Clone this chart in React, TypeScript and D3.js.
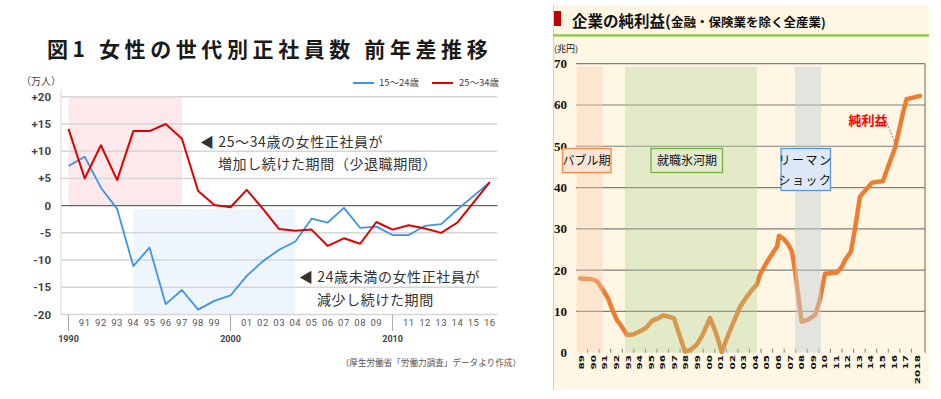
import React from 'react';
import * as d3 from 'd3';

// ---- left chart: 女性の世代別正社員数 前年差 (万人) ----
const years = [1990, 1991, 1992, 1993, 1994, 1995, 1996, 1997, 1998, 1999, 2000, 2001, 2002, 2003, 2004, 2005, 2006, 2007, 2008, 2009, 2010, 2011, 2012, 2013, 2014, 2015, 2016];
const age15to24 = [7.3, 9.0, 3.3, -0.6, -11.1, -7.7, -18.1, -15.5, -19.1, -17.5, -16.5, -12.9, -10.2, -8.1, -6.6, -2.4, -3.1, -0.4, -4.1, -3.85, -5.4, -5.4, -3.7, -3.4, -0.7, 1.8, 4.3];
const age25to34 = [14.1, 5.0, 11.1, 4.7, 13.7, 13.7, 15.0, 12.3, 2.7, 0.1, -0.3, 2.9, -0.6, -4.3, -4.6, -4.4, -7.4, -6.0, -7.0, -3.0, -4.4, -3.6, -4.2, -5.0, -3.1, 0.6, 4.3];
const yTicksL = [20, 15, 10, 5, 0, -5, -10, -15, -20];
const yTickLabelsL = ['+20', '+15', '+10', '+5', '0', '-5', '-10', '-15', '-20'];
const shortYearLabels = ['', '91', '92', '93', '94', '95', '96', '97', '98', '99', '', '01', '02', '03', '04', '05', '06', '07', '08', '09', '', '11', '12', '13', '14', '15', '16'];
const decadeYears = [1990, 2000, 2010];
// shaded periods [fromYear, toYear, fromValue, toValue]
const increasePeriod = [1990, 1997, 0, 20];
const decreasePeriod = [1994, 2004, -20, -0.6];

// ---- right chart: 企業の純利益 (兆円) ----
const fyLabels = ['89', '90', '91', '92', '93', '94', '95', '96', '97', '98', '99', '00', '01', '02', '03', '04', '05', '06', '07', '08', '09', '10', '11', '12', '13', '14', '15', '16', '17', '2018'];
// position in years since FY1989 start, value in 兆円
const profitT = [0.35, 1.38, 1.82, 2.33, 2.77, 3.2, 3.54, 3.89, 4.41, 4.93, 5.53, 6.05, 6.57, 7.09, 7.52, 7.95, 8.47, 8.99, 9.42, 9.86, 10.46, 10.98, 11.59, 12.1, 12.6, 13.05, 13.57, 14.18, 14.78, 15.3, 15.65, 15.91, 16.6, 17.38, 17.55, 17.98, 18.33, 18.67, 18.93, 19.19, 19.51, 20.06, 20.66, 21.09, 21.52, 22.56, 22.99, 23.25, 23.77, 24.12, 24.55, 25.07, 25.59, 26.54, 26.97, 27.57, 28.0, 28.26, 28.58, 29.13, 29.73];
const profitV = [18.0, 17.8, 17.3, 15.2, 13.2, 10.0, 7.9, 6.6, 4.3, 4.4, 5.2, 6.0, 7.7, 8.3, 9.0, 8.8, 8.3, 3.9, 0.3, 0.6, 2.0, 4.5, 8.4, 4.8, 0.2, 3.5, 7.1, 11.1, 13.6, 15.5, 16.6, 19.0, 22.4, 25.7, 28.3, 27.5, 26.3, 24.5, 20.0, 14.4, 7.5, 8.0, 9.1, 12.8, 19.1, 19.4, 20.8, 22.4, 24.5, 30.0, 37.8, 39.5, 41.2, 41.6, 45.0, 49.5, 54.7, 58.0, 61.4, 61.8, 62.2];
const yTicksR = [0, 10, 20, 30, 40, 50, 60, 70];
const periodNames = ['バブル期', '就職氷河期', 'リーマンショック'];
const periodRanges = [[0.06, 2.31], [4.24, 15.65], [18.93, 21.18]];
const periodFills = ['#f8cbad', '#a9d18e', '#c5ced6'];
const periodOpacity = [0.38, 0.32, 0.48];

const JP = '"Noto Sans CJK JP", "Noto Sans", sans-serif';

const xL = d3.scaleLinear().domain([1990, 2016]).range([68.5, 489.8]);
const yL = d3.scaleLinear().domain([-20, 20]).range([314.5, 96.8]);
const xR = d3.scaleLinear().domain([0, 30]).range([576, 923]);
const yR = d3.scaleLinear().domain([0, 70]).range([352.7, 63.7]);

const lineL = d3.line<number>().x((_, i) => xL(years[i])).y(d => yL(d));
const lineR = d3.line<number>().x((_, i) => xR(profitT[i])).y(d => yR(d)).curve(d3.curveLinear);

const LeftChart: React.FC = () => (
  <g>
    <text x={47} y={57} fontFamily={JP} fontWeight={700} fontSize={21} letterSpacing={4.6} fill="#1a1a1a">
      図1 女性の世代別正社員数 前年差推移
    </text>
    <text x={41} y={85} fontFamily={JP} fontSize={10} fill="#444" textAnchor="middle">（万人）</text>

    {/* legend */}
    <line x1={353} x2={374} y1={83} y2={83} stroke="#3d94e6" strokeWidth={2} />
    <text x={379} y={86.3} fontFamily={JP} fontSize={9.5} fill="#444">15～24歳</text>
    <line x1={432} x2={453} y1={83} y2={83} stroke="#e00000" strokeWidth={2} />
    <text x={459} y={86.3} fontFamily={JP} fontSize={9.5} fill="#444">25～34歳</text>

    {/* shaded periods */}
    <rect x={xL(increasePeriod[0])} width={xL(increasePeriod[1]) - xL(increasePeriod[0])}
      y={yL(increasePeriod[3])} height={yL(increasePeriod[2]) - yL(increasePeriod[3])} fill="#fde9e9" />
    <rect x={xL(decreasePeriod[0])} width={xL(decreasePeriod[1]) - xL(decreasePeriod[0])}
      y={yL(decreasePeriod[3])} height={yL(decreasePeriod[2]) - yL(decreasePeriod[3])} fill="#eef5fd" />

    {/* grid */}
    {yTicksL.map((v, i) => (
      <g key={v}>
        <line x1={61} x2={497.5} y1={yL(v)} y2={yL(v)} stroke={v === 0 ? '#666' : '#d6d6d6'} strokeWidth={v === 0 ? 1.4 : 1.5} />
        <text x={51} y={yL(v) + 4} textAnchor="end" fontFamily="Roboto, sans-serif" fontWeight={700} fontSize={11.5} fill="#444">
          {yTickLabelsL[i]}
        </text>
      </g>
    ))}
    <line x1={61} x2={61} y1={90} y2={315} stroke="#d6d6d6" strokeWidth={1} />

    {/* x axis */}
    {decadeYears.map(y => (
      <g key={y}>
        <line x1={xL(y)} x2={xL(y)} y1={315} y2={331} stroke="#aaa" strokeWidth={1} />
        <text x={xL(y)} y={342} textAnchor="middle" fontFamily="Roboto, sans-serif" fontWeight={700} fontSize={9} fill="#444">{y}</text>
      </g>
    ))}
    {years.map((y, i) => shortYearLabels[i] && (
      <text key={y} x={xL(y)} y={325.5} textAnchor="middle" fontFamily="Roboto, sans-serif" fontSize={9.5} fill="#555" letterSpacing={0.5}>
        {shortYearLabels[i]}
      </text>
    ))}

    {/* lines */}
    <path d={lineL(age15to24) || ''} fill="none" stroke="#3d94e6" strokeWidth={1.8} strokeLinejoin="round" />
    <path d={lineL(age25to34) || ''} fill="none" stroke="#e00000" strokeWidth={2} strokeLinejoin="round" />

    {/* annotations */}
    <g fontFamily={JP} fontSize={14} fill="#333" letterSpacing={0.6}>
      <text x={200} y={147}>◀ 25～34歳の女性正社員が</text>
      <text x={218} y={168.5}>増加し続けた期間（少退職期間）</text>
      <text x={299} y={281.5}>◀ 24歳未満の女性正社員が</text>
      <text x={317} y={305}>減少し続けた期間</text>
    </g>
    <text x={521} y={365.5} textAnchor="end" fontFamily={JP} fontSize={8.6} fill="#555">（厚生労働省「労働力調査」データより作成）</text>
  </g>
);

const RightChart: React.FC = () => (
  <g>
    <rect x={553} y={5} width={376} height={385} fill="#fff7e4" />
    <line x1={553.5} x2={553.5} y1={5} y2={390} stroke="#cfcfcf" strokeWidth={1} />
    <rect x={554} y={11} width={7} height={15} fill="#c00000" />
    <text x={572} y={27} fontFamily={JP} fontWeight={700} fill="#111">
      <tspan fontSize={15.5}>企業の純利益(</tspan>
      <tspan fontSize={12.5}>金融・保険業を除く全産業)</tspan>
    </text>
    <rect x={553} y={34.2} width={376} height={2.4} fill="#92c84e" />
    <text x={566} y={52} textAnchor="middle" fontFamily={JP} fontSize={9} fill="#111">(兆円)</text>

    {/* shaded periods behind grid */}
    {yTicksR.map(v => (
      <g key={v}>
        {v > 0 && <line x1={576} x2={925} y1={yR(v)} y2={yR(v)} stroke="#7f7f7f" strokeWidth={1.2} />}
        <text x={567} y={yR(v) + 4.5} textAnchor="end" fontFamily='"Liberation Serif", serif' fontWeight={700} fontSize={13} fill="#111">{v}</text>
      </g>
    ))}
    <line x1={925} x2={925} y1={yR(70)} y2={yR(0)} stroke="#7f7f7f" strokeWidth={1.2} />

    {/* x ticks and labels */}
    {fyLabels.map((lab, i) => (
      <g key={lab}>
        {i > 0 && <line x1={xR(i)} x2={xR(i)} y1={yR(0) - 4} y2={yR(0)} stroke="#7f7f7f" strokeWidth={1} />}
        <text transform={`translate(${xR(i + 0.5)},355) rotate(-90) scale(1.5,1)`} dy="0.36em" textAnchor="end"
          fontFamily='"DejaVu Sans", sans-serif' fontWeight={700} fontSize={7} fill="#111">{lab}</text>
      </g>
    ))}

    {/* profit line */}
    <path d={lineR(profitV) || ''} fill="none" stroke="#ed7d31" strokeWidth={4.5} strokeLinejoin="round" strokeLinecap="round" />

    {/* period bands drawn over the line, semi-transparent */}
    {periodRanges.map((r, i) => (
      <rect key={periodNames[i]} x={xR(r[0])} width={xR(r[1]) - xR(r[0])} y={yR(69.3)} height={yR(0) - yR(69.3)}
        fill={periodFills[i]} opacity={periodOpacity[i]} />
    ))}

    {/* period labels */}
    <g fontFamily={JP} fontSize={12} fill="#111">
      <rect x={562.5} y={148.5} width={48.5} height={24} fill="#fce5d4" stroke="#f08a4b" strokeWidth={1.3} />
      <text x={586.5} y={165}>
        <tspan textAnchor="middle">{periodNames[0]}</tspan>
      </text>
      <rect x={651} y={148.5} width={71.5} height={24} fill="#e3ebcc" stroke="#76b043" strokeWidth={1.3} />
      <text x={687} y={165} textAnchor="middle">{periodNames[1]}</text>
      <rect x={781} y={148.5} width={49.5} height={42} fill="#dde9f6" stroke="#5b9bd5" strokeWidth={1.3} />
      <text x={805.5} y={165} textAnchor="middle" letterSpacing={1.5}>リーマン</text>
      <text x={805.5} y={185} textAnchor="middle" letterSpacing={1.5}>ショック</text>
    </g>
    <text x={868} y={124.5} textAnchor="middle" fontFamily={JP} fontWeight={700} fontSize={13} fill="#ff0000">純利益</text>
    <line x1={887} y1={123} x2={895} y2={143} stroke="#666" strokeWidth={0.8} strokeDasharray="2,1.5" />
  </g>
);

export default function App() {
  return (
    <svg width={941} height={399} style={{ position: 'absolute', left: 0, top: 0, background: '#fff' }}>
      <LeftChart />
      <RightChart />
    </svg>
  );
}
